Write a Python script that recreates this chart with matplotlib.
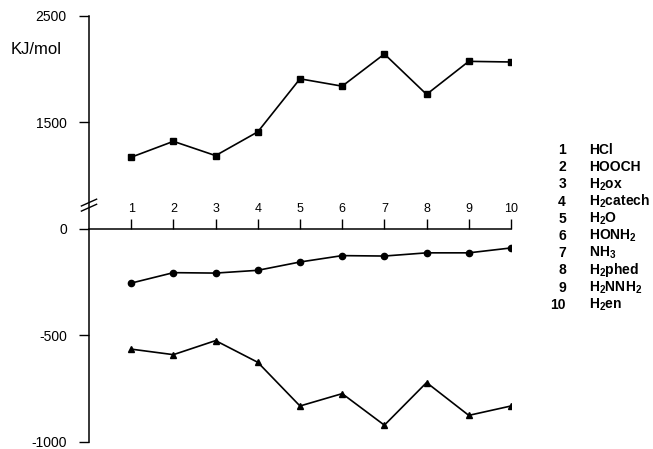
import numpy as np
import matplotlib
matplotlib.use("Agg")
from matplotlib import pyplot as plt

plt.rcParams['font.family'] = ['Liberation Sans', 'DejaVu Sans']
plt.rcParams['axes.unicode_minus'] = False
plt.rcParams['mathtext.default'] = 'regular'

x = np.arange(1, 11)
squares = [1174, 1323, 1189, 1412, 1910, 1841, 2143, 1764, 2074, 2068]
circles = [-254, -205, -207, -194, -155, -125, -127, -112, -112, -89]
triangles = [-564, -590, -524, -626, -831, -773, -921, -721, -875, -831]

y_ticks = [-1000, -500, 0, 1500, 2500]
legend_nums = ['1', '2', '3', '4', '5', '6', '7', '8', '9', '10']
legend_names = ['HCl', 'HOOCH', 'H$_2$ox', 'H$_2$catech', 'H$_2$O',
                'HONH$_2$', 'NH$_3$', 'H$_2$phed', 'H$_2$NNH$_2$', 'H$_2$en']

brk = 700  # values between 0 and brk are squeezed (axis break)


def forward(v):
    v = np.asarray(v, dtype=float)
    return np.where(v <= 0, v, np.where(v < brk, v * 100 / brk, v / 2 - 250))


def inverse(y):
    y = np.asarray(y, dtype=float)
    return np.where(y <= 0, y, np.where(y < 100, y * brk / 100, (y + 250) * 2))


fig = plt.figure(figsize=(6.53, 4.49), dpi=100)
ax = fig.add_axes([0.1363, 0.0156, 0.6462, 0.9488])
ax.set_yscale('function', functions=(forward, inverse))

lw = 1.2
ax.plot(x, squares, color='black', lw=lw, marker='s', ms=4.5)
ax.plot(x, circles, color='black', lw=lw, marker='o', ms=4.5)
ax.plot(x, triangles, color='black', lw=lw, marker='^', ms=5)

ax.set_xlim(0, 10)
ax.set_ylim(-1000, 2500)

ax.spines['right'].set_visible(False)
ax.spines['bottom'].set_visible(False)
ax.spines['top'].set_position(('data', 0))
ax.spines['top'].set_linewidth(1.1)
ax.spines['left'].set_linewidth(1.1)

ax.xaxis.tick_top()
ax.set_xticks(x)
ax.set_xticklabels([str(i) for i in x])
ax.tick_params(axis='x', direction='out', length=7, width=1.0, pad=3, labelsize=9)

ax.set_yticks(y_ticks)
ax.set_yticklabels([str(v) for v in y_ticks])
ax.yaxis.set_minor_locator(matplotlib.ticker.NullLocator())
ax.tick_params(axis='y', direction='out', length=7, width=1.0, pad=9, labelsize=10)

# axis break marks
for dy in (-0.006, 0.006):
    yc = 0.556 + dy
    ax.plot([-0.018, 0.018], [yc - 0.008, yc + 0.008], color='black', lw=1.0,
            transform=ax.transAxes, clip_on=False)

fig.text(11 / 653, 1 - 50 / 449, 'KJ/mol', fontsize=12, ha='left', va='center')

# compound key on the right
for i, (num, name) in enumerate(zip(legend_nums, legend_names)):
    yy = 1 - (150 + i * 17.2) / 449
    fig.text(566 / 653, yy, num, fontsize=10, fontweight='bold', ha='right', va='center')
    fig.text(589 / 653, yy, name, fontsize=10, fontweight='bold', ha='left', va='center')

fig.savefig('out.png', dpi=100)
